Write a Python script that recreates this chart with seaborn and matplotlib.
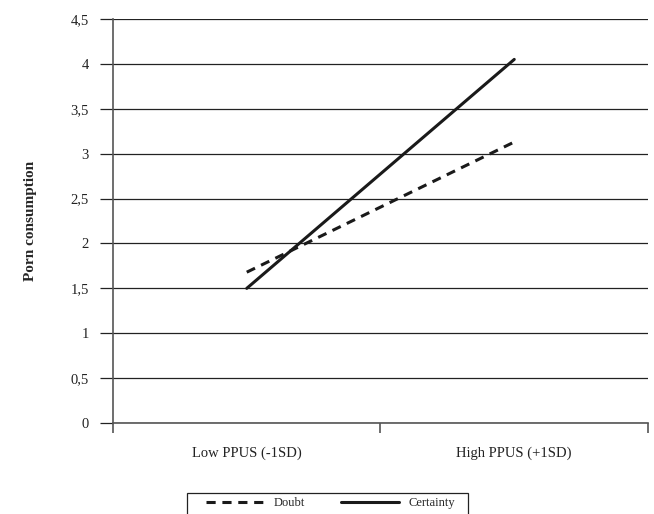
import numpy as np
import pandas as pd
import matplotlib
matplotlib.use("Agg")
from matplotlib import pyplot as plt
from matplotlib.patches import Rectangle
from matplotlib.ticker import FixedLocator, FuncFormatter
import seaborn as sns

# data
groups = ["Low PPUS (-1SD)", "High PPUS (+1SD)"]
doubt = [1.68, 3.13]
certainty = [1.50, 4.05]
y_ticks = [0, 0.5, 1, 1.5, 2, 2.5, 3, 3.5, 4, 4.5]

df = pd.DataFrame({
    "group": groups * 2,
    "value": doubt + certainty,
    "series": ["Doubt"] * 2 + ["Certainty"] * 2,
})
df["x"] = np.tile(np.arange(len(groups)), 2)

sns.set_style("white")
plt.rcParams["font.family"] = ["Liberation Serif", "DejaVu Serif"]

fig = plt.figure(figsize=(6.54, 5.14), dpi=100)
ax = fig.add_axes([0.1728, 0.177, 0.818, 0.786])

sns.lineplot(data=df, x="x", y="value", style="series", hue="series",
             palette={"Doubt": "#1a1a1a", "Certainty": "#1a1a1a"},
             dashes={"Doubt": (3, 2.2), "Certainty": ""},
             linewidth=2.2, ax=ax, legend=True)

ax.set_ylim(0, 4.5)
ax.set_xlim(-0.5, 1.5)
ax.yaxis.set_major_locator(FixedLocator(y_ticks))
ax.yaxis.set_major_formatter(FuncFormatter(lambda v, p: ("%g" % v).replace(".", ",")))
ax.grid(axis="y", color="#222222", linewidth=0.9)
ax.set_axisbelow(True)
ax.tick_params(axis="y", length=9.4, width=0.9, color="#222222", labelsize=10.5,
               labelcolor="#222222", pad=8, left=True)

ax.set_xticks([-0.5, 0.5, 1.5])
ax.set_xticklabels([])
ax.set_xticks(range(len(groups)), minor=True)
ax.set_xticklabels(groups, minor=True)
ax.tick_params(axis="x", which="major", length=7, width=1.2, color="#555555", bottom=True, direction="out")
ax.tick_params(axis="x", which="minor", length=0, labelsize=10.5, labelcolor="#222222", pad=17)

for side in ["top", "right"]:
    ax.spines[side].set_visible(False)
for side in ["left", "bottom"]:
    ax.spines[side].set_color("#555555")
    ax.spines[side].set_linewidth(1.2)

ax.set_xlabel("")
ax.set_ylabel("Porn consumption", fontsize=11, fontweight="bold", labelpad=24)

handles, labels = ax.get_legend_handles_labels()
ax.get_legend().remove()
leg = fig.legend(handles, labels, loc="center left", bbox_to_anchor=(206 / 654, 1 - 503 / 514),
                 ncol=2, fontsize=9, frameon=False, handlelength=4.6,
                 columnspacing=2.9, handletextpad=0.8, borderpad=0, borderaxespad=0)
fig.patches.append(Rectangle((187 / 654, -0.02), (468 - 187) / 654, 0.02 + 1 - 493 / 514,
                             transform=fig.transFigure, fill=False,
                             edgecolor="#222222", linewidth=0.9))

fig.savefig("out.png", dpi=100)
